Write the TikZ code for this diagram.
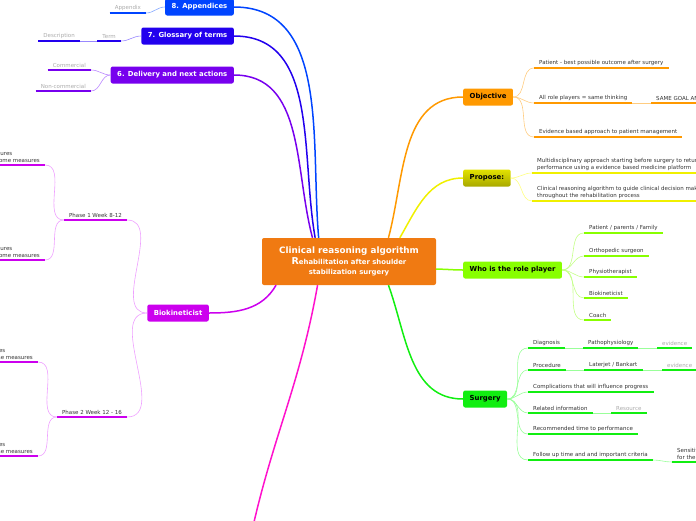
\documentclass[tikz,border=0pt]{standalone}
\usepackage{fontspec}
\setmainfont{DejaVu Sans}
\usetikzlibrary{positioning}

\definecolor{cenorange}{HTML}{F07A12}
\definecolor{objorange}{HTML}{FF9900}
\definecolor{objlight}{HTML}{FFCC80}
\definecolor{proyellow}{HTML}{F0F000}
\definecolor{protop}{HTML}{E2E200}
\definecolor{probot}{HTML}{A8A800}
\definecolor{prolight}{HTML}{FFFF80}
\definecolor{rolelime}{HTML}{88FF00}
\definecolor{rolelight}{HTML}{C4FF88}
\definecolor{surgreen}{HTML}{11EE11}
\definecolor{surlight}{HTML}{99FF99}
\definecolor{biomag}{HTML}{CC00EE}
\definecolor{biolight}{HTML}{EEA0FF}
\definecolor{pinkline}{HTML}{FF11CC}
\definecolor{delpurple}{HTML}{7700EE}
\definecolor{dellight}{HTML}{BB88FF}
\definecolor{globlue}{HTML}{2200EE}
\definecolor{glolight}{HTML}{9988FF}
\definecolor{appblue}{HTML}{0044FF}
\definecolor{applight}{HTML}{88AAFF}
\definecolor{leaftext}{HTML}{333333}
\definecolor{leafgrey}{HTML}{AAAAAA}

\tikzset{
  topic/.style={rounded corners=2pt,inner xsep=6.5pt,minimum height=17pt,
    font=\bfseries\fontsize{6.9}{8}\selectfont,text=white},
  leaf/.style={inner xsep=5pt,inner ysep=2pt,font=\fontsize{5.5}{6.8}\selectfont,
    text=leaftext,align=left},
  faint/.style={leaf,text=leafgrey},
  branch/.style={line width=1.5pt},
  twig/.style={line width=0.6pt},
  uline/.style={line width=2.5pt}
}

\begin{document}
\begin{tikzpicture}[x=1pt,y=-1pt]
  \useasboundingbox (0,0) rectangle (696,520);
  \clip (0,0) rectangle (696,520);

  % centre
  \node[fill=cenorange,rounded corners=2pt,minimum width=174pt,minimum height=47pt,
    text=white,font=\bfseries\fontsize{6.9}{10.5}\selectfont,align=center] (cen) at (349,261.5)
    {{\fontsize{8.8}{10.5}\selectfont Clinical reasoning algorithm}\\
     {\fontsize{9.5}{10.5}\selectfont R}ehabilitation after shoulder\\
     stabilization surgery};

  % main topics, left
  \node[topic,fill=appblue,anchor=east] (app) at (234,7) {8. Appendices};
  \node[topic,fill=globlue,anchor=east] (glo) at (234,36) {7. Glossary of terms};
  \node[topic,fill=delpurple,anchor=east] (del) at (234,75) {6. Delivery and next actions};
  \node[topic,fill=biomag,anchor=east] (bio) at (209,313) {Biokineticist};
  \coordinate (pinkend) at (250,540);

  % main topics, right
  \node[topic,fill=objorange,text=black,anchor=west] (obj) at (463,97) {Objective};
  \node[topic,top color=protop,bottom color=probot,text=black,anchor=west] (pro) at (463,178) {Propose:};
  \node[topic,fill=rolelime,text=black,anchor=west] (rol) at (463,270) {Who is the role player};
  \node[topic,fill=surgreen,text=black,anchor=west] (sur) at (463,399) {Surgery};

  % branches
  \draw[branch,appblue] (cen.142.8) to[out=95,in=0] (app.east);
  \draw[branch,globlue] (cen.145) to[out=100,in=0] (glo.east);
  \draw[branch,delpurple] (cen.147.6) to[out=105,in=0] (del.east);
  \draw[branch,biomag] (cen.198) to[out=-120,in=0] (bio.east);
  \draw[branch,pinkline] (cen.217) to[out=-100,in=78] (pinkend);
  \draw[branch,objorange] (cen.31.7) to[out=75,in=180] (obj.west);
  \draw[branch,proyellow] (cen.25.6) to[out=60,in=180] (pro.west);
  \draw[branch,rolelime] (cen.-5) to[out=0,in=180] (rol.west);
  \draw[branch,surgreen] (cen.-31) to[out=-70,in=180] (sur.west);

  % leaves, left
  \node[faint,anchor=south east] (a1) at (146,13) {Appendix};
  \node[faint,anchor=south east] (g1) at (121,41) {Term};
  \node[faint,anchor=south east] (g2) at (80,41) {Description};
  \node[faint,anchor=south east] (d1) at (91,70) {Commercial};
  \node[faint,anchor=south east] (d2) at (91,91) {Non-commercial};
  \node[leaf,anchor=south east] (b1) at (127,220) {Phase 1 Week 8-12};
  \node[leaf,anchor=south east] (b2) at (127,417) {Phase 2 Week 12 - 16};
  \node[leaf,anchor=south east] (b1a) at (45,165) {Measures\\Outcome measures};
  \node[leaf,anchor=south east] (b1b) at (45,260) {Measures\\Outcome measures};
  \node[leaf,anchor=south east] (b2a) at (38,362) {Measures\\Outcome measures};
  \node[leaf,anchor=south east] (b2b) at (38,456) {Measures\\Outcome measures};

  % leaves, right
  \node[leaf,anchor=south west] (o1) at (534,68) {Patient - best possible outcome after surgery};
  \node[leaf,anchor=south west] (o2) at (534,103) {All role players = same thinking};
  \node[leaf,anchor=south west] (o2a) at (651,103) {SAME GOAL AND VISION};
  \node[leaf,anchor=south west] (o3) at (534,137) {Evidence based approach to patient management};

  \node[leaf,anchor=south west] (p1) at (532,173)
    {Multidisciplinary approach starting before surgery to return to\\
     performance using a evidence based medicine platform};
  \node[leaf,anchor=south west] (p2) at (532,201)
    {Clinical reasoning algorithm to guide clinical decision making\\
     throughout the rehabilitation process};

  \node[leaf,anchor=south west] (r1) at (584,233) {Patient / parents / Family};
  \node[leaf,anchor=south west] (r2) at (584,256) {Orthopedic surgeon};
  \node[leaf,anchor=south west] (r3) at (584,277) {Physiotherapist};
  \node[leaf,anchor=south west] (r4) at (584,298) {Biokineticist};
  \node[leaf,anchor=south west] (r5) at (584,320) {Coach};

  \node[leaf,anchor=south west] (s1) at (528,348) {Diagnosis};
  \node[leaf,anchor=south west] (s1a) at (583,348) {Pathophysiology};
  \node[faint,anchor=south west] (s1b) at (657,348) {evidence};
  \node[leaf,anchor=south west] (s2) at (528,370) {Procedure};
  \node[leaf,anchor=south west] (s2a) at (584,370) {Laterjet / Bankart};
  \node[faint,anchor=south west] (s2b) at (662,370) {evidence};
  \node[leaf,anchor=south west] (s3) at (528,392) {Complications that will influence progress};
  \node[leaf,anchor=south west] (s4) at (528,413) {Related information};
  \node[faint,anchor=south west] (s4a) at (611,413) {Resource};
  \node[leaf,anchor=south west] (s5) at (528,434) {Recommended time to performance};
  \node[leaf,anchor=south west] (s6) at (528,460) {Follow up time and and important criteria};
  \node[leaf,anchor=south west] (s6a) at (672,462) {Sensitivity and specificity\\for the tests};

  % twigs
  \draw[twig,applight] (app.west) to[out=180,in=0] (a1.south east);
  \draw[twig,glolight] (glo.west) to[out=180,in=0] (g1.south east);
  \draw[twig,glolight] (g1.south west) -- (g2.south east);
  \foreach \n in {d1,d2}
    \draw[twig,dellight] (del.west) to[out=180,in=0] (\n.south east);
  \foreach \n in {b1,b2}
    \draw[twig,biolight] (bio.west) to[out=180,in=0] (\n.south east);
  \foreach \n in {b1a,b1b}
    \draw[twig,biolight] (b1.south west) to[out=180,in=0] (\n.south east);
  \foreach \n in {b2a,b2b}
    \draw[twig,biolight] (b2.south west) to[out=180,in=0] (\n.south east);

  \foreach \n in {o1,o2,o3}
    \draw[twig,objlight] (obj.east) to[out=0,in=180] (\n.south west);
  \draw[twig,objlight] (o2.south east) -- (o2a.south west);
  \foreach \n in {p1,p2}
    \draw[twig,prolight] (pro.east) to[out=0,in=180] (\n.south west);
  \foreach \n in {r1,r2,r3,r4,r5}
    \draw[twig,rolelight] (rol.east) to[out=0,in=180] (\n.south west);
  \foreach \n in {s1,s2,s3,s4,s5,s6}
    \draw[twig,surlight] (sur.east) to[out=0,in=180] (\n.south west);
  \draw[twig,surlight] (s1.south east) -- (s1a.south west);
  \draw[twig,surlight] (s1a.south east) -- (s1b.south west);
  \draw[twig,surlight] (s2.south east) -- (s2a.south west);
  \draw[twig,surlight] (s2a.south east) -- (s2b.south west);
  \draw[twig,surlight] (s4.south east) -- (s4a.south west);
  \draw[twig,surlight] (s6.south east) to[out=0,in=180] (s6a.south west);

  % underlines
  \foreach \n in {a1} \draw[uline,appblue] (\n.south west) -- (\n.south east);
  \foreach \n in {g1,g2} \draw[uline,globlue] (\n.south west) -- (\n.south east);
  \foreach \n in {d1,d2} \draw[uline,delpurple] (\n.south west) -- (\n.south east);
  \foreach \n in {b1,b2,b1a,b1b,b2a,b2b} \draw[uline,biomag] (\n.south west) -- (\n.south east);
  \foreach \n in {o1,o2,o2a,o3} \draw[uline,objorange] (\n.south west) -- (\n.south east);
  \foreach \n in {p1,p2} \draw[uline,proyellow] (\n.south west) -- (\n.south east);
  \foreach \n in {r1,r2,r3,r4,r5} \draw[uline,rolelime] (\n.south west) -- (\n.south east);
  \foreach \n in {s1,s1a,s1b,s2,s2a,s2b,s3,s4,s4a,s5,s6,s6a}
    \draw[uline,surgreen] (\n.south west) -- (\n.south east);
\end{tikzpicture}
\end{document}
